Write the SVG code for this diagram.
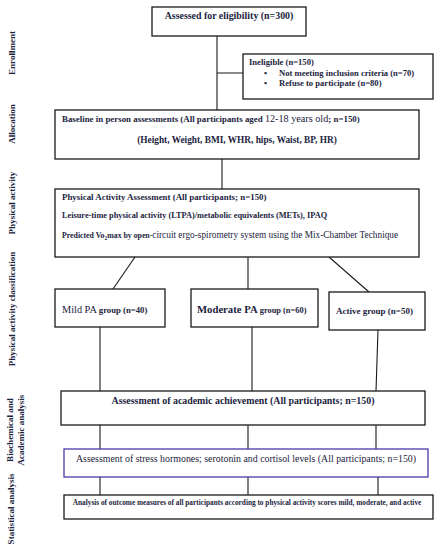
<svg xmlns="http://www.w3.org/2000/svg" width="440" height="550" viewBox="0 0 440 550">
<style>
.box{fill:#fff;stroke:#1a1a1a;stroke-width:1.3}
.pbox{fill:#fff;stroke:#4a3aa8;stroke-width:1.3}
.ln{stroke:#1a1a1a;stroke-width:1.1;fill:none}
text{font-family:"Liberation Serif","Times New Roman",serif;fill:#1c2440}
.b{font-weight:bold}
.side{font-weight:bold;font-size:9px;text-anchor:middle}
</style>
<rect width="440" height="550" fill="#fff"/>
<g id="side-labels">
<text class="side" transform="translate(15,53) rotate(-90)">Enrollment</text>
<text class="side" transform="translate(15,124) rotate(-90)">Allocation</text>
<text class="side" transform="translate(15,203) rotate(-90)">Physical activity</text>
<text class="side" transform="translate(15,309) rotate(-90)">Physical activity classification</text>
<text class="side" transform="translate(13,430) rotate(-90)">Biochemical and</text>
<text class="side" transform="translate(24,430) rotate(-90)">Academic analysis</text>
<text class="side" transform="translate(14,509) rotate(-90)">Statistical analysis</text>
</g>
<g id="connectors">
<path class="ln" d="M217,36 V110 M217,73 H243"/>
<path class="ln" d="M222,159 V189"/>
<path class="ln" d="M135,257 L113,289 M248,257 V289 M329,257 L369,292"/>
<path class="ln" d="M100,327 V391 M252,327 V391 M378,330 L376,391"/>
<path class="ln" d="M100,425 V449 M248,425 V449 M376,425 V449"/>
<path class="ln" d="M100,477 V495 M248,477 V495 M378,477 V495"/>
</g>
<g id="eligibility">
<rect class="box" x="152" y="7" width="154" height="29"/>
<text class="b" x="229" y="19" font-size="9.9" text-anchor="middle">Assessed for eligibility (n=300)</text>
</g>
<g id="ineligible">
<rect class="box" x="243" y="54" width="190" height="45"/>
<text class="b" x="249" y="65" font-size="8.6">Ineligible (n=150)</text>
<text class="b" x="264" y="76" font-size="8.6">•</text>
<text class="b" x="279" y="76" font-size="8.6">Not meeting inclusion criteria (n=70)</text>
<text class="b" x="264" y="86" font-size="8.6">•</text>
<text class="b" x="279" y="86" font-size="8.6">Refuse to participate (n=80)</text>
</g>
<g id="baseline">
<rect class="box" x="55" y="110" width="364" height="49"/>
<text x="62" y="122" font-size="8.9"><tspan class="b">Baseline in person assessments (All participants aged </tspan><tspan font-size="10.2">12-18 years old</tspan><tspan class="b">; n=150)</tspan></text>
<text class="b" x="237" y="143" font-size="9.3" text-anchor="middle">(Height, Weight, BMI, WHR, hips, Waist, BP, HR)</text>
</g>
<g id="pa-assessment">
<rect class="box" x="55" y="189" width="364" height="68"/>
<text class="b" x="62" y="200" font-size="8.9">Physical Activity Assessment (All participants; n=150)</text>
<text class="b" x="62" y="218" font-size="8.3">Leisure-time physical activity (LTPA)/metabolic equivalents (METs), IPAQ</text>
<text x="62" y="238" font-size="9.3"><tspan class="b" font-size="7.8">Predicted Vo</tspan><tspan class="b" font-size="5.4" dy="1.5">2</tspan><tspan class="b" font-size="7.8" dy="-1.5">max by open-</tspan>circuit ergo-spirometry system using the Mix-Chamber Technique</text>
</g>
<g id="mild">
<rect class="box" x="55" y="289" width="110" height="38"/>
<text x="62" y="313" font-size="10.3">Mild PA <tspan class="b" font-size="8.7">group (n=40)</tspan></text>
</g>
<g id="moderate">
<rect class="box" x="191" y="289" width="127" height="38"/>
<text class="b" x="197" y="313" font-size="10.7">Moderate PA <tspan font-size="8.4">group (n=60)</tspan></text>
</g>
<g id="active">
<rect class="box" x="329" y="292" width="96" height="38"/>
<text class="b" x="336" y="314" font-size="9">Active group (n=50)</text>
</g>
<g id="academic">
<rect class="box" x="61" y="391" width="364" height="34"/>
<text class="b" x="243" y="404" font-size="9.9" text-anchor="middle">Assessment of academic achievement (All participants; n=150)</text>
</g>
<g id="stress">
<rect class="pbox" x="64" y="449" width="364" height="28"/>
<text x="246" y="462" font-size="9.9" text-anchor="middle">Assessment of stress hormones; serotonin and cortisol levels (All participants; n=150)</text>
</g>
<g id="analysis">
<rect class="box" x="64" y="495" width="369" height="24"/>
<text class="b" x="247" y="505" font-size="7.3" text-anchor="middle">Analysis of outcome measures of all participants according to physical activity scores mild, moderate, and active</text>
</g>
</svg>
